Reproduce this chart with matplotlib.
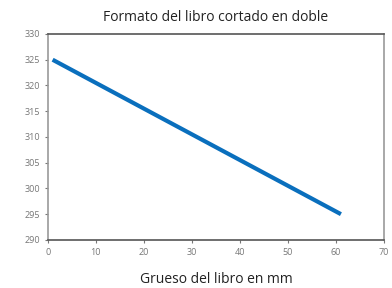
import matplotlib
matplotlib.use('Agg')
import matplotlib.pyplot as plt

plt.rcParams['font.family'] = ['Open Sans', 'DejaVu Sans']

grueso = [1, 61]
formato = [325, 295]
xticks = [0, 10, 20, 30, 40, 50, 60, 70]
yticks = [290, 295, 300, 305, 310, 315, 320, 325, 330]

fig = plt.figure(figsize=(3.92, 2.88), dpi=100)
ax = fig.add_axes([0.122, 0.167, 0.858, 0.715])

ax.plot(grueso, formato, color='#0a6fbd', linewidth=3, solid_capstyle='butt')

ax.set_xlim(0, 70)
ax.set_ylim(290, 330)
ax.set_xticks(xticks)
ax.set_yticks(yticks)
ax.tick_params(labelsize=6.5, colors='#777777', length=2, width=0.8)
for s in ax.spines.values():
    s.set_color('#999999')
    s.set_linewidth(1.2)
ax.spines['top'].set_color('#555555')
ax.spines['bottom'].set_color('#555555')

ax.set_title('Formato del libro cortado en doble', fontsize=10, color='#222222', pad=9)
ax.set_xlabel('Grueso del libro en mm', fontsize=10, color='#222222', labelpad=11)

fig.savefig('out.png', dpi=100)
